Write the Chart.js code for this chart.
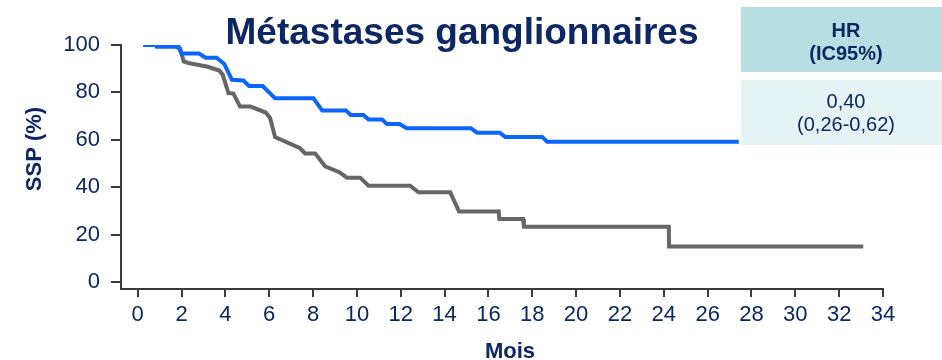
<!DOCTYPE html>
<html lang="fr">
<head>
<meta charset="utf-8">
<title>Métastases ganglionnaires</title>
<script src="https://cdn.jsdelivr.net/npm/chart.js@4.4.1/dist/chart.umd.min.js"></script>
<style>
  html, body { margin: 0; padding: 0; background: #ffffff; }
  #wrap { position: relative; width: 942px; height: 360px; }
  canvas { display: block; }
</style>
</head>
<body>
<div id="wrap"><canvas id="c" width="942" height="360"></canvas></div>
<script>
// ---- Data ----
const TITLE = 'Métastases ganglionnaires';
const Y_TITLE = 'SSP (%)';
const X_TITLE = 'Mois';
const HR_HEADER = ['HR', '(IC95%)'];
const HR_VALUE = ['0,40', '(0,26-0,62)'];

const X_TICKS = [0, 2, 4, 6, 8, 10, 12, 14, 16, 18, 20, 22, 24, 26, 28, 30, 32, 34];
const Y_TICKS = [0, 20, 40, 60, 80, 100];

// Blue curve (months, SSP %)
const BLUE_MONTHS = [0.26, 0.82, 0.87, 1.86, 2.0, 2.8, 3.1, 3.6, 3.95, 4.3, 4.82, 5.08, 5.7, 6.27, 8.02, 8.42, 9.5, 9.72, 10.3, 10.53, 11.15, 11.37, 11.95, 12.27, 15.2, 15.48, 16.51, 16.77, 18.45, 18.68, 27.42];
const BLUE_SSP    = [100, 100, 99.3, 99.3, 96.4, 96.4, 94.6, 94.6, 92.0, 85.3, 85.0, 82.7, 82.7, 77.5, 77.5, 72.3, 72.3, 70.5, 70.5, 68.6, 68.6, 66.6, 66.6, 64.9, 64.9, 63.0, 63.0, 61.2, 61.2, 59.2, 59.2];

// Grey curve (months, SSP %)
const GREY_MONTHS = [0.26, 1.55, 1.93, 2.1, 2.31, 3.2, 3.72, 3.88, 4.14, 4.37, 4.67, 5.15, 5.84, 6.04, 6.27, 7.41, 7.64, 8.1, 8.55, 9.2, 9.54, 10.15, 10.53, 12.43, 12.81, 14.26, 14.66, 16.47, 16.5, 17.58, 17.62, 24.23, 24.24, 33.1];
const GREY_SSP    = [100, 100, 98.6, 93.1, 92.4, 90.8, 89.2, 87.5, 79.7, 79.5, 74.0, 74.0, 71.5, 69.2, 61.1, 56.4, 54.2, 54.2, 48.8, 46.3, 44.0, 44.0, 40.6, 40.6, 37.8, 37.8, 29.7, 29.7, 26.5, 26.5, 23.3, 23.3, 14.9, 14.9];

// ---- Styles ----
const NAVY = '#0c2764';
const BLUE = '#0a66ff';
const GREY = '#666666';
const AXIS = '#3a3a3a';
const FONT = '"Liberation Sans", Arial, Helvetica, sans-serif';

const toPoints = (xs, ys) => xs.map((x, i) => ({ x: x, y: ys[i] }));

const overlay = {
  id: 'overlay',
  afterDraw(chart) {
    const ctx = chart.ctx;
    ctx.save();
    ctx.fillStyle = NAVY;
    // Title
    ctx.font = 'bold 37px ' + FONT;
    ctx.textAlign = 'center';
    ctx.textBaseline = 'alphabetic';
    ctx.fillText(TITLE, 462, 44);
    // X axis title
    ctx.font = 'bold 22px ' + FONT;
    ctx.fillText(X_TITLE, 510, 358);
    // Y axis title (rotated)
    ctx.save();
    ctx.translate(41, 149);
    ctx.rotate(-Math.PI / 2);
    ctx.textBaseline = 'alphabetic';
    ctx.fillText(Y_TITLE, 0, 0);
    ctx.restore();
    // HR table
    ctx.fillStyle = '#b7dfe1';
    ctx.fillRect(741, 7, 201, 65);
    ctx.fillStyle = '#e6f3f5';
    ctx.fillRect(741, 80, 201, 65);
    ctx.fillStyle = NAVY;
    ctx.textAlign = 'center';
    ctx.font = 'bold 20px ' + FONT;
    ctx.fillText(HR_HEADER[0], 846, 37);
    ctx.fillText(HR_HEADER[1], 846, 60);
    ctx.font = '20px ' + FONT;
    ctx.fillText(HR_VALUE[0], 846, 108);
    ctx.fillText(HR_VALUE[1], 846, 131);
    ctx.restore();
  }
};

new Chart(document.getElementById('c'), {
  type: 'line',
  data: {
    datasets: [
      {
        label: 'Courbe bleue',
        data: toPoints(BLUE_MONTHS, BLUE_SSP),
        borderColor: BLUE,
        backgroundColor: BLUE,
        borderWidth: 4,
        pointRadius: 0,
        tension: 0,
        fill: false
      },
      {
        label: 'Courbe grise',
        data: toPoints(GREY_MONTHS, GREY_SSP),
        borderColor: GREY,
        backgroundColor: GREY,
        borderWidth: 4,
        pointRadius: 0,
        tension: 0,
        fill: false
      }
    ]
  },
  options: {
    responsive: false,
    animation: false,
    devicePixelRatio: 1,
    layout: { padding: { left: 0, top: 45, right: 59, bottom: 0 } },
    plugins: {
      legend: { display: false },
      title: { display: false },
      tooltip: { enabled: false }
    },
    scales: {
      x: {
        type: 'linear',
        min: -0.76,
        max: 34,
        afterBuildTicks: (axis) => { axis.ticks = X_TICKS.map(v => ({ value: v })); },
        afterFit: (scale) => { scale.height = 71; },
        grid: { drawOnChartArea: false, drawTicks: true, tickLength: 8, color: AXIS, lineWidth: 2 },
        border: { display: true, color: AXIS, width: 2 },
        ticks: { color: NAVY, font: { family: FONT, size: 22 }, padding: 5, maxRotation: 0, autoSkip: false }
      },
      y: {
        type: 'linear',
        min: -3,
        max: 100,
        afterBuildTicks: (axis) => { axis.ticks = Y_TICKS.map(v => ({ value: v })); },
        afterFit: (scale) => { scale.width = 121; },
        grid: { drawOnChartArea: false, drawTicks: true, tickLength: 10, color: AXIS, lineWidth: 2 },
        border: { display: true, color: AXIS, width: 2 },
        ticks: { color: NAVY, font: { family: FONT, size: 22 }, padding: 11, autoSkip: false }
      }
    }
  },
  plugins: [overlay]
});
</script>
</body>
</html>
